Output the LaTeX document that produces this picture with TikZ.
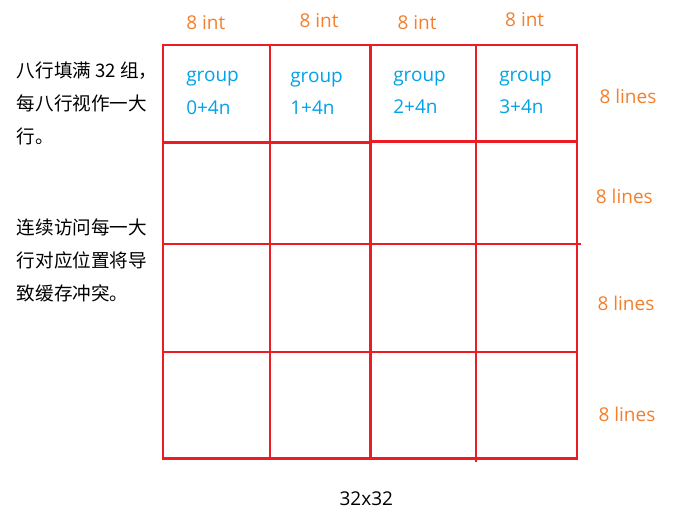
\documentclass[tikz,border=0pt]{standalone}
\usepackage{fontspec}
\setmainfont{Open Sans}
\newfontfamily\cjk{Noto Sans CJK SC}
\usetikzlibrary{positioning}

\definecolor{gridred}{HTML}{ED1C24}
\definecolor{labelorange}{HTML}{F37F2C}
\definecolor{groupblue}{HTML}{00A2E8}

\tikzset{
  cell/.style={line width=2.2pt, gridred},
  width label/.style={anchor=base west, inner sep=0pt, labelorange, font=\fontsize{14.3}{17}\selectfont},
  line label/.style={anchor=base west, inner sep=0pt, labelorange, font=\fontsize{14.3}{17}\selectfont},
  group label/.style={anchor=base west, inner sep=0pt, groupblue, font=\fontsize{14.3}{17}\selectfont},
  note/.style={anchor=north west, inner sep=0pt, align=left, font=\cjk\fontsize{14}{24.75}\selectfont}
}

\begin{document}
\begin{tikzpicture}[x=1in,y=1in]
\useasboundingbox (0,0) rectangle (7.0833,5.4479);
% cache grid, 32x32
\draw[cell] (1.6980,0.6740) rectangle (6.0100,4.9790);
\draw[cell] (1.6980,3.9640) -- (3.8590,3.9640);
\draw[cell] (3.8590,3.9760) -- (6.0100,3.9760);
\draw[cell] (1.6980,2.9060) -- (6.0490,2.9060);
\draw[cell] (1.6980,1.7810) -- (6.0100,1.7810);
\draw[cell] (2.8125,4.9790) -- (2.8125,0.6740);
\draw[cell] (3.8590,4.9790) -- (3.8590,0.6740);
\draw[cell] (4.9580,4.9790) -- (4.9580,0.6350);
% column widths
\node[width label] (int0) at (1.9375,5.1430) {8 int};
\node[width label] (int1) at (3.1180,5.1630) {8 int};
\node[width label] (int2) at (4.1390,5.1430) {8 int};
\node[width label] (int3) at (5.2600,5.1700) {8 int};
% groups in the first big row
\node[group label] (grp0) at (1.9375,4.5970) {group};
\node[group label] (idx0) at (1.9375,4.2600) {0+4n};
\node[group label] (grp1) at (3.0210,4.5860) {group};
\node[group label] (idx1) at (3.0210,4.2500) {1+4n};
\node[group label] (grp2) at (4.0940,4.5970) {group};
\node[group label] (idx2) at (4.0940,4.2660) {2+4n};
\node[group label] (grp3) at (5.1980,4.5970) {group};
\node[group label] (idx3) at (5.1980,4.2660) {3+4n};
% row heights
\node[line label] (lines0) at (6.2430,4.3650) {8 lines};
\node[line label] (lines1) at (6.2050,3.3230) {8 lines};
\node[line label] (lines2) at (6.2220,2.2110) {8 lines};
\node[line label] (lines3) at (6.2320,1.0550) {8 lines};
\node[anchor=base west, inner sep=0pt, font=\fontsize{14.3}{17}\selectfont] (size) at (3.5350,0.1875) {32x32};
% notes
\node[note] (note0) at (0.1740,4.8050) {八行填满 32 组，\\每八行视作一大\\行。};
\node[note] (note1) at (0.1740,3.1740) {连续访问每一大\\行对应位置将导\\致缓存冲突。};
\end{tikzpicture}
\end{document}
